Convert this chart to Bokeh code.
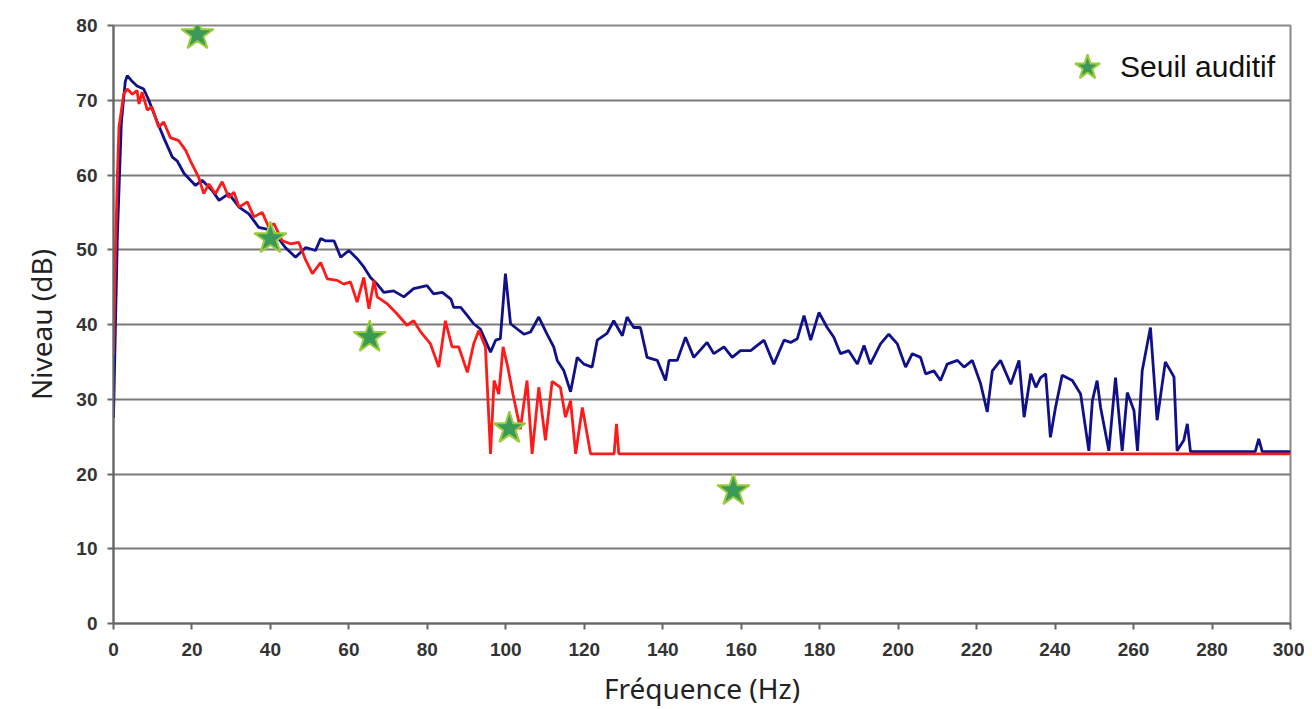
from bokeh.plotting import figure
from bokeh.models import Range1d, FixedTicker, Legend, LegendItem
from bokeh.embed import file_html
from bokeh.resources import INLINE

# Blue spectrum (Hz, dB)
blue_f = [0, 0.5, 1, 2, 3, 3.5, 4.8, 6, 7.7, 9, 10.7, 12.8, 15, 16.2, 18, 20.9, 22.6, 25.2, 26.9,
          29.4, 32, 34.5, 37, 40.5, 43.8, 46.4, 49, 51.5, 52.8, 54, 56.2, 57.9, 60, 62.1, 63.8, 65.5,
          67.2, 68.9, 71.4, 74, 76.5, 79.9, 81.6, 83.8, 86, 86.7, 88.5, 90.2, 91.8, 93.5, 96.1, 97.4,
          98.6, 99.9, 101.2, 102.9, 104.6, 106.3, 108.4, 110.5, 112.2, 113.1, 114.8, 116.5, 118.2,
          119.9, 122, 123.3, 125.8, 127.5, 129.7, 130.9, 132.6, 134.3, 136, 138.6, 140.7, 141.6,
          143.7, 145.8, 147.9, 151.3, 153, 155.6, 157.7, 159.8, 162.4, 165.8, 168.3, 170.9, 172.6,
          174.3, 176, 177.7, 179.8, 181.9, 183.6, 185.3, 187.4, 189.6, 191.3, 192.9, 195.5, 197.6,
          199.8, 201.9, 203.6, 205.7, 207, 209.1, 210.8, 212.5, 215.1, 216.8, 218.9, 221, 222.7, 224,
          226.1, 228.7, 230.8, 232.1, 233.8, 235.1, 236.3, 237.6, 238.8, 240.1, 241.8, 244.4, 246.5,
          248.6, 249.5, 250.7, 251.6, 253.7, 255.4, 257.1, 258.4, 260.1, 261, 262.2, 264.3, 266,
          268.1, 270.3, 271.1, 272.8, 273.7, 274.5, 291, 291.9, 292.8, 300]
blue_db = [27.5, 40, 52, 67, 72.5, 73.3, 72.5, 71.9, 71.5, 70, 67.7, 65, 62.4, 61.9, 60.2, 58.6, 59.3,
           57.9, 56.6, 57.5, 55.7, 54.8, 53, 52.6, 50.3, 49, 50.3, 49.9, 51.5, 51.2, 51.2, 49, 49.9,
           48.8, 47.7, 46.3, 45.4, 44.3, 44.5, 43.7, 44.8, 45.2, 44.1, 44.3, 43.4, 42.3, 42.3, 41.2,
           40.1, 39.4, 36.3, 37.9, 38.1, 46.8, 40.1, 39.4, 38.7, 39, 41, 38.7, 37, 35.2, 33.8, 31,
           35.6, 34.7, 34.3, 37.9, 38.8, 40.5, 38.5, 41, 39.6, 39.6, 35.6, 35.2, 32.5, 35.2, 35.2,
           38.3, 35.6, 37.6, 36.1, 37, 35.6, 36.5, 36.5, 37.9, 34.7, 37.9, 37.6, 38.1, 41.2, 37.9,
           41.6, 39.6, 38.3, 36.1, 36.5, 34.7, 37.2, 34.7, 37.4, 38.7, 37.4, 34.3, 36.1, 35.6, 33.4,
           33.8, 32.5, 34.7, 35.2, 34.3, 35.2, 32.1, 28.3, 33.8, 35.2, 32, 35.2, 27.6, 33.4, 31.6,
           32.9, 33.4, 24.9, 28.9, 33.2, 32.5, 30.7, 23.1, 29.8, 32.5, 28.9, 23.1, 32.9, 23.1, 30.9,
           28.5, 23.1, 33.8, 39.6, 27.2, 35, 33, 23.1, 24.5, 26.7, 23, 23, 24.7, 23, 23]

# Red spectrum (Hz, dB)
red_f = [0, 0.5, 1, 1.4, 2.6, 3.5, 4.8, 6, 6.5, 7.3, 8.6, 9.8, 11.5, 12.8, 14.5, 16.6, 18.4, 19.6,
         21.7, 23, 24.3, 26, 27.7, 29.4, 30.7, 32, 34.1, 35.8, 37.9, 39.6, 40.9, 43, 45.1, 47.2, 49,
         50.7, 52.8, 54.5, 57, 58.7, 60.4, 62.1, 63.8, 65.1, 66.4, 67.2, 69.7, 72.3, 74.8, 76.5, 78.3,
         80.8, 82.9, 84.6, 86.3, 88, 90.2, 91.8, 93.1, 94.8, 96.1, 97, 98.2, 99.3, 100.5, 101.8,
         103.7, 105.4, 106.7, 108.4, 110.1, 111.8, 113.9, 115.2, 116.5, 117.8, 119.5, 121.6, 127.6,
         128.2, 128.8, 300]
red_db = [36, 50, 60, 66.4, 70.8, 71.5, 70.8, 71.3, 69.5, 71.1, 68.7, 69.1, 66.4, 67.1, 65, 64.6, 63.3,
          61.9, 59.7, 57.5, 58.8, 57.5, 59.1, 57, 57.7, 55.7, 56.4, 54.4, 55, 53, 53.5, 51.2, 50.8,
          51, 48.6, 46.8, 48.3, 46.1, 45.9, 45.4, 45.7, 43, 46.3, 42.1, 45.9, 43.7, 42.8, 41.4, 39.9,
          40.5, 39, 37.4, 34.3, 40.5, 37, 37, 33.6, 37.4, 39.2, 37, 22.7, 32.5, 30.7, 37, 34.3, 30.7,
          26, 32.5, 22.7, 31.6, 24.5, 32.4, 31.6, 27.6, 29.8, 22.7, 28.9, 22.7, 22.7, 26.7, 22.7, 22.7]

# Hearing threshold points
seuil_f = [21.4, 40, 65.3, 100.9, 158]
seuil_db = [78.8, 51.5, 38.3, 26.1, 17.8]

x_ticks = list(range(0, 301, 20))
y_ticks = list(range(0, 81, 10))

p = figure(width=1304, height=709, output_backend="svg", toolbar_location=None,
           x_range=Range1d(0, 300), y_range=Range1d(0, 80),
           min_border_left=113, min_border_right=14, min_border_top=25, min_border_bottom=86)

p.xaxis.ticker = FixedTicker(ticks=x_ticks)
p.yaxis.ticker = FixedTicker(ticks=y_ticks)
p.xgrid.visible = False
p.ygrid.grid_line_color = "#7a7a7a"
p.ygrid.grid_line_width = 2
p.outline_line_color = "#888888"
p.outline_line_width = 2

for ax in (p.xaxis[0], p.yaxis[0]):
    ax.axis_line_color = "#666666"
    ax.axis_line_width = 2
    ax.major_tick_line_color = "#666666"
    ax.major_tick_line_width = 2
    ax.major_tick_out = 6
    ax.major_tick_in = 0
    ax.minor_tick_line_color = None
    ax.major_label_text_font = "Liberation Sans"
    ax.major_label_text_font_size = "19px"
    ax.major_label_text_font_style = "bold"
    ax.major_label_text_color = "#333333"
    ax.axis_label_text_font = "Noto Sans"
    ax.axis_label_text_font_size = "28px"
    ax.axis_label_text_font_style = "normal"
    ax.axis_label_text_color = "#222222"

p.xaxis.axis_label = "Fréquence (Hz)"
p.yaxis.axis_label = "Niveau (dB)"
p.xaxis.major_label_standoff = 13
p.yaxis.major_label_standoff = 10
p.xaxis.axis_label_standoff = 10
p.yaxis.axis_label_standoff = 13

p.line(blue_f, blue_db, line_color="#10108a", line_width=2.8)
p.line(red_f, red_db, line_color="#ff1a1a", line_width=2.8)
stars = p.scatter(seuil_f, seuil_db, marker="star", size=34, fill_color="#3a9a5a",
                  line_color="#9ccc3c", line_width=2)

legend = Legend(items=[LegendItem(label="Seuil auditif", renderers=[stars])],
                location=(941, 523))
legend.border_line_color = None
legend.background_fill_alpha = 0
legend.label_text_font = "Liberation Sans"
legend.label_text_font_size = "30px"
legend.label_text_color = "#111111"
legend.glyph_width = 66
legend.glyph_height = 66
legend.label_standoff = 0
legend.margin = 0
legend.padding = 5
p.add_layout(legend)

open("out.html", "w").write(file_html(p, INLINE))
